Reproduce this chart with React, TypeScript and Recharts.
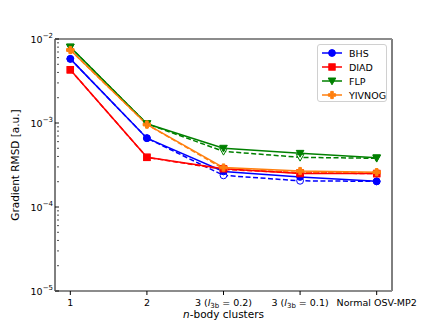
import React from 'react';
import { LineChart, Line, XAxis, YAxis, ReferenceLine } from 'recharts';

const categories = ['1', '2', '3 (l3b = 0.2)', '3 (l3b = 0.1)', 'Normal OSV-MP2'];

const bhs = [5.8e-3, 6.6e-4, 2.65e-4, 2.28e-4, 2.02e-4];
const bhsDashed = [5.8e-3, 6.6e-4, 2.38e-4, 2.05e-4, 2.02e-4];
const diad = [4.3e-3, 3.9e-4, 2.85e-4, 2.5e-4, 2.5e-4];
const diadDashed = [4.3e-3, 3.9e-4, 2.8e-4, 2.55e-4, 2.5e-4];
const flp = [8.0e-3, 9.8e-4, 5.0e-4, 4.35e-4, 3.85e-4];
const flpDashed = [8.0e-3, 9.8e-4, 4.6e-4, 3.9e-4, 3.8e-4];
const yivnog = [7.4e-3, 9.6e-4, 2.95e-4, 2.68e-4, 2.6e-4];
const yivnogDashed = [7.4e-3, 9.6e-4, 2.85e-4, 2.57e-4, 2.55e-4];

const majorTicks = [1e-5, 1e-4, 1e-3, 1e-2];
const minorFactors = [2, 3, 4, 5, 6, 7, 8, 9];

const FONT = '"DejaVu Sans", sans-serif';

const series = [
  { key: 'bhs', name: 'BHS', color: '#0000ff', shape: 'circle', solid: bhs, dashed: bhsDashed },
  { key: 'diad', name: 'DIAD', color: '#ff0000', shape: 'square', solid: diad, dashed: diadDashed },
  { key: 'flp', name: 'FLP', color: '#008000', shape: 'tri', solid: flp, dashed: flpDashed },
  { key: 'yivnog', name: 'YIVNOG', color: '#ff7f0e', shape: 'plus', solid: yivnog, dashed: yivnogDashed },
];

const data = categories.map((c, i) => {
  const row: any = { x: i };
  series.forEach((s) => {
    row[s.key] = s.solid[i];
    row[s.key + 'D'] = s.dashed[i];
  });
  return row;
});

const yTicks: number[] = [];
majorTicks.forEach((m, i) => {
  yTicks.push(m);
  if (i < majorTicks.length - 1) minorFactors.forEach((f) => yTicks.push(m * f));
});

function Marker({ shape, cx, cy, color, fill }: any) {
  if (cx == null || cy == null) return null;
  if (shape === 'circle') return <circle cx={cx} cy={cy} r={3.4} fill={fill} stroke={color} strokeWidth={1} />;
  if (shape === 'square') return <rect x={cx - 3.2} y={cy - 3.2} width={6.4} height={6.4} fill={fill} stroke={color} strokeWidth={1} />;
  if (shape === 'tri')
    return <polygon points={`${cx - 3.8},${cy - 3} ${cx + 3.8},${cy - 3} ${cx},${cy + 3.8}`} fill={fill} stroke={color} strokeWidth={1} />;
  const a = 3.6, t = 1.3;
  const d = `M${cx - t},${cy - a} H${cx + t} V${cy - t} H${cx + a} V${cy + t} H${cx + t} V${cy + a} H${cx - t} V${cy + t} H${cx - a} V${cy - t} H${cx - t} Z`;
  return <path d={d} fill={fill} stroke={color} strokeWidth={1} />;
}

function XTick({ x, y, payload }: any) {
  const label = categories[payload.value];
  const m = label.match(/^(\d) \(l3b = ([\d.]+)\)$/);
  return (
    <text x={x} y={y + 8.5} textAnchor="middle" fontSize={9.5} fill="#000" fontFamily={FONT}>
      {m ? (
        <>
          <tspan>{m[1]} (</tspan>
          <tspan fontStyle="italic">l</tspan>
          <tspan fontSize={7} dy={2}>3b</tspan>
          <tspan dy={-2}>{' = ' + m[2] + ')'}</tspan>
        </>
      ) : (
        label
      )}
    </text>
  );
}

function YTick({ x, y, payload }: any) {
  const v = payload.value;
  const exp = Math.round(Math.log10(v));
  const major = Math.abs(Math.log10(v) - exp) < 1e-6;
  return (
    <g>
      <line x1={x + 6} x2={x + 6 - (major ? 4 : 2)} y1={y} y2={y} stroke="#000" strokeWidth={major ? 0.9 : 0.7} />
      {major && (
        <text x={x} y={y + 3.5} textAnchor="end" fontSize={9.5} fill="#000" fontFamily={FONT}>
          <tspan>10</tspan>
          <tspan fontSize={7} dy={-5}>{'\u2212' + Math.abs(exp)}</tspan>
        </text>
      )}
    </g>
  );
}

function LegendBox() {
  return (
    <div
      style={{
        position: 'absolute', left: 317, top: 44, width: 70, height: 58, boxSizing: 'border-box',
        border: '1px solid #d0d0d0', borderRadius: 3, background: 'rgba(255,255,255,0.8)',
        fontFamily: FONT, fontSize: 9.5,
      }}
    >
      {series.map((s, i) => (
        <div key={s.key} style={{ position: 'absolute', left: 2, top: 1 + i * 14, height: 14, display: 'flex', alignItems: 'center' }}>
          <svg width={24} height={14}>
            <line x1={2} x2={22} y1={7} y2={7} stroke={s.color} strokeWidth={1.5} />
            <Marker shape={s.shape} cx={12} cy={7} color={s.color} fill={s.color} />
          </svg>
          <span style={{ marginLeft: 5 }}>{s.name}</span>
        </div>
      ))}
    </div>
  );
}

export default function App() {
  return (
    <div style={{ position: 'relative', width: 436, height: 327, background: '#fff' }}>
      <style>{'body{margin:0}'}</style>
      <LineChart width={436} height={327} data={data} margin={{ top: 39, right: 44, bottom: 6, left: 5 }}>
        <XAxis
          type="number"
          dataKey="x"
          domain={[-0.2, 4.2]}
          ticks={[0, 1, 2, 3, 4]}
          allowDataOverflow
          axisLine={false}
          tickLine={{ stroke: '#000' }}
          tickSize={4}
          height={30}
          tick={<XTick />}
          interval={0}
        />
        <YAxis
          scale="log"
          domain={[1e-5, 1e-2]}
          ticks={yTicks}
          allowDataOverflow
          axisLine={false}
          tickLine={false}
          tickSize={0}
          width={50}
          interval={0}
          tick={<YTick />}
        />
        <ReferenceLine x={-0.2} stroke="#000" strokeWidth={1} />
        <ReferenceLine x={4.2} stroke="#000" strokeWidth={1} />
        {series.map((s) => (
          <Line
            key={s.key + 'D'}
            dataKey={s.key + 'D'}
            stroke={s.color}
            strokeWidth={1.5}
            strokeDasharray="5 2.5"
            isAnimationActive={false}
            dot={(p: any) => <Marker key={p.index} shape={s.shape} cx={p.cx} cy={p.cy} color={s.color} fill="#fff" />}
            activeDot={false}
          />
        ))}
        {series.map((s) => (
          <Line
            key={s.key}
            dataKey={s.key}
            stroke={s.color}
            strokeWidth={1.5}
            isAnimationActive={false}
            dot={(p: any) => <Marker key={p.index} shape={s.shape} cx={p.cx} cy={p.cy} color={s.color} fill={s.color} />}
            activeDot={false}
          />
        ))}
        <ReferenceLine y={1e-2} stroke="#8c8c8c" strokeWidth={2} />
        <ReferenceLine y={1e-5} stroke="#8c8c8c" strokeWidth={2} />
      </LineChart>
      <div style={{ position: 'absolute', left: 0, width: 447, top: 308, textAlign: 'center', fontFamily: FONT, fontSize: 10.5 }}>
        <i>n</i>-body clusters
      </div>
      <div
        style={{
          position: 'absolute', left: 15, top: 165, transform: 'translate(-50%, -50%) rotate(-90deg)',
          whiteSpace: 'nowrap', fontFamily: FONT, fontSize: 10.5,
        }}
      >
        Gradient RMSD [a.u.]
      </div>
      <LegendBox />
    </div>
  );
}
